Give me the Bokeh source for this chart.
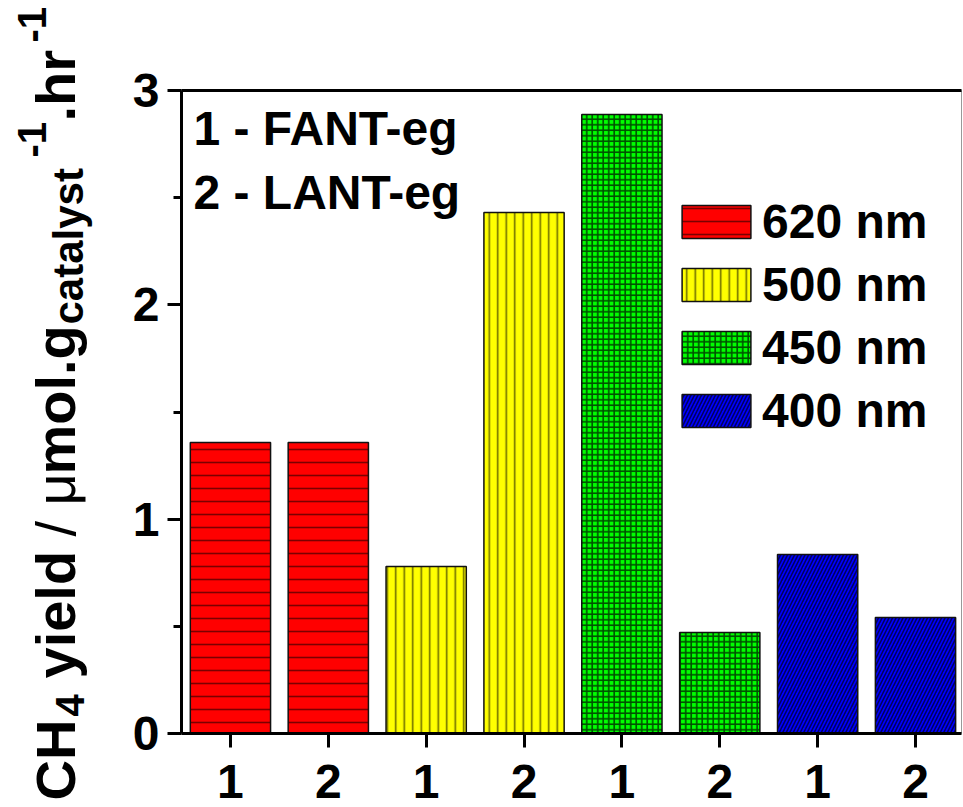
import numpy as np
from bokeh.plotting import figure
from bokeh.layouts import row
from bokeh.models import (Label, Legend, LegendItem, FixedTicker, LinearAxis,
                          Range1d, ColumnDataSource)
from bokeh.core.properties import value
from bokeh.embed import file_html
from bokeh.resources import INLINE

# ---- data ----
wavelengths = ["620 nm", "500 nm", "450 nm", "400 nm"]
fant_eg = [1.358, 0.779, 2.888, 0.835]   # sample 1
lant_eg = [1.358, 2.431, 0.471, 0.541]   # sample 2
tick_labels = ["1", "2", "1", "2", "1", "2", "1", "2"]
sample_notes = ["1 - FANT-eg", "2 - LANT-eg"]

fills = ["#ff0000", "#ffff00", "#00ff00", "#0000ff"]
hatch_colors = ["#7a0000", "#6e6e00", "#005000", "#000060"]
hatches = ["horizontal_line", "vertical_line", "cross", "right_diagonal_line"]
hatch_scales = [13, 8.5, 5.5, 7]

FONT = "Liberation Sans"
W, H = 963, 807
LW = 110                              # width of the strip holding the y title
FL, FR, FT, FB = 181, 961, 90, 733    # frame edges in page pixels

# ---- main chart ----
p = figure(width=W - LW, height=H, output_backend="svg", toolbar_location=None,
           x_range=Range1d(0.5, 8.47), y_range=Range1d(0, 3),
           min_border_left=FL - LW, min_border_right=W - FR,
           min_border_top=FT, min_border_bottom=H - FB)
p.frame_align = False
p.background_fill_color = "white"
p.border_fill_color = "white"
p.grid.visible = False
p.outline_line_color = "#999999"
p.outline_line_width = 1

items = []
for i, wl in enumerate(wavelengths):
    src = ColumnDataSource(dict(x=[2 * i + 1, 2 * i + 2], top=[fant_eg[i], lant_eg[i]]))
    r = p.vbar(x="x", top="top", bottom=0, width=0.82, source=src,
               fill_color=fills[i], line_color="#111111", line_width=1.5,
               hatch_pattern=hatches[i], hatch_color=hatch_colors[i],
               hatch_scale=hatch_scales[i], hatch_weight=1.6)
    items.append(LegendItem(label=wl, renderers=[r]))

xa = p.xaxis[0]
xa.ticker = FixedTicker(ticks=list(range(1, 9)))
xa.major_label_overrides = {i + 1: t for i, t in enumerate(tick_labels)}
ya = p.yaxis[0]
ya.ticker = FixedTicker(ticks=[0, 1, 2, 3], minor_ticks=[0.5, 1.5, 2.5])
for ax in (xa, ya):
    ax.axis_line_width = 3
    ax.axis_line_color = "black"
    ax.major_tick_line_width = 3
    ax.major_tick_line_color = "black"
    ax.major_tick_in = 0
    ax.major_tick_out = 14
    ax.major_label_text_font = FONT
    ax.major_label_text_font_style = "bold"
    ax.major_label_text_font_size = "48px"
    ax.major_label_text_color = "black"
xa.minor_tick_line_color = None
ya.minor_tick_line_width = 3
ya.minor_tick_line_color = "black"
ya.minor_tick_in = 0
ya.minor_tick_out = 8
xa.major_label_standoff = 17
ya.major_label_standoff = 8

top_ax = LinearAxis(axis_line_width=3, axis_line_color="black",
                    major_tick_line_color=None, minor_tick_line_color=None,
                    major_label_text_font_size="0px")
top_ax.ticker = FixedTicker(ticks=[])
p.add_layout(top_ax, "above")

legend = Legend(items=items, location=(492, 733 - 438),
                glyph_width=86, glyph_height=41, label_standoff=3,
                label_text_font=FONT, label_text_font_style="bold",
                label_text_font_size="48px", label_text_color="black",
                spacing=8, padding=0, margin=0,
                border_line_color=None, background_fill_alpha=0)
p.add_layout(legend, "center")

for k, note in enumerate(sample_notes):
    p.add_layout(Label(x=193 - FL, y=FB - (128 + 64 * k), x_units="screen",
                       y_units="screen", text=note, text_font=FONT,
                       text_font_style="bold", text_font_size="48px",
                       text_color="black",
                       text_baseline="alphabetic", text_align="left"))

# ---- strip with the rotated y title, built from pieces ----
# (text, page_y_start, page_x_baseline, size, style)
title_parts = [
    ("CH", 800, 74, 56, "bold"),
    ("4", 716, 83, 40, "bold"),
    ("yield", 678, 74, 56, "bold"),
    ("/ \u03bc", 536, 74, 56, "normal"),
    ("mol.g", 474, 74, 56, "bold"),
    ("catalyst", 324, 83, 42, "bold"),
    ("-1", 157, 45, 40, "bold"),
    (".hr", 121, 74, 56, "bold"),
    ("-1", 42, 45, 40, "bold"),
]
t = figure(frame_width=LW, frame_height=H, output_backend="svg",
           toolbar_location=None, x_range=Range1d(0, LW), y_range=Range1d(0, H),
           x_axis_type=None, y_axis_type=None, min_border=0)
t.frame_align = False
t.grid.visible = False
t.outline_line_color = None
t.background_fill_color = "white"
t.border_fill_color = "white"
for txt, py, px, sz, st in title_parts:
    # the svg text anchor sits ~0.346 em above the baseline
    t.text(x=[px - 0.346 * sz], y=[H - py], text=[txt], angle=np.pi / 2,
           text_font=value(FONT), text_font_style=st,
           text_font_size=f"{sz}px", text_color="black",
           text_align="left", text_baseline="alphabetic")

layout = row(t, p)
open("out.html", "w").write(file_html(layout, INLINE))
